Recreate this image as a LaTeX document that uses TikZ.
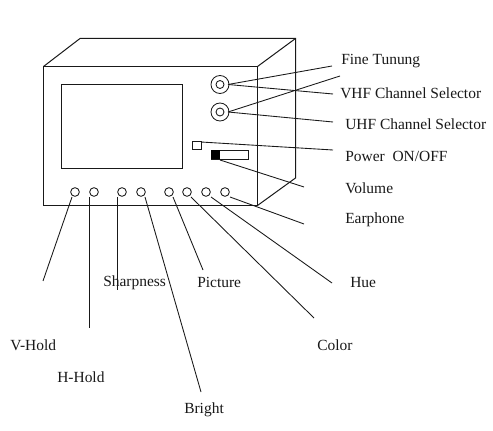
\documentclass[tikz,border=0pt]{standalone}
\usepackage{fontspec}
\setmainfont{Liberation Serif}
\tikzset{
  ln/.style={draw=black!90,line width=0.75pt},
  thin ln/.style={draw=black!90,line width=0.65pt},
  knobout/.style={circle,draw=black!90,line width=0.65pt,minimum size=13.5pt,inner sep=0pt},
  knobin/.style={circle,draw=black!90,line width=0.65pt,minimum size=6pt,inner sep=0pt},
  btn/.style={circle,draw=black!90,line width=0.65pt,minimum size=6.5pt,inner sep=0pt},
  lbl/.style={anchor=west,inner sep=0pt,font=\fontsize{11.6pt}{13pt}\selectfont,text=black!90},
}
\begin{document}
\begin{tikzpicture}[x=0.75pt,y=-0.75pt]
\useasboundingbox (0,0) rectangle (493,431);
% cabinet
\draw[ln] (43.5,66.5) rectangle (257.5,205.5);
\draw[ln] (43.5,66.5) -- (80,38.5) -- (295.5,38.5) -- (295.5,178) -- (257.5,205.5);
\draw[ln] (257.5,66.5) -- (295.5,38.5);
% screen
\draw[ln] (61.5,84.5) rectangle (182.5,168.5);
% knobs
\node[knobout] (fineo) at (220,84.5) {};
\node[knobin] (fine) at (220,84.5) {};
\node[knobout] (uhfo) at (220,112) {};
\node[knobin] (uhf) at (220,112) {};
% switch, slider
\node[draw=black!90,line width=0.75pt,minimum width=6.75pt,minimum height=6pt,inner sep=0pt] (pwr) at (197,145.5) {};
\node[draw=black!90,line width=0.75pt,fill=white,minimum width=27.5pt,minimum height=6.75pt,inner sep=0pt,anchor=west] (slide) at (211,155) {};
\fill[black] (211,150.5) rectangle (220,159.5);
% buttons
\node[btn] (b1) at (75,192) {};
\node[btn] (b2) at (94,192) {};
\node[btn] (b3) at (122,192) {};
\node[btn] (b4) at (141,192) {};
\node[btn] (b5) at (169,192) {};
\node[btn] (b6) at (187,192) {};
\node[btn] (b7) at (206,192) {};
\node[btn] (b8) at (225,192) {};
% free ends
\coordinate (e1) at (43,281);
\coordinate (s2) at (89.5,197);
\coordinate (e2) at (89.5,328);
\coordinate (s3) at (117.5,197);
\coordinate (e3) at (117.5,290);
\coordinate (e4) at (201,392);
\coordinate (e5) at (203,270);
\coordinate (e6) at (314,318);
\coordinate (e7) at (332,283);
\coordinate (e8) at (304,224);
\coordinate (ef) at (332,66);
\coordinate (ev) at (333,94);
\coordinate (e0) at (340,76);
\coordinate (eu) at (333,122);
\coordinate (ep) at (333,150);
\coordinate (evol) at (304,187);
\coordinate (pc) at (201,142);
\coordinate (vs) at (220,160);
\coordinate (k1) at (228,84.5);
\coordinate (k2) at (228,112);
% connectors
\draw[thin ln] (b1) ++(-3,5) -- (e1);
\draw[thin ln] (s2) -- (e2);
\draw[thin ln] (s3) -- (e3);
\draw[thin ln] (b4) ++(4,5) -- (e4);
\draw[thin ln] (b5) ++(4,5) -- (e5);
\draw[thin ln] (b6) ++(4,5) -- (e6);
\draw[thin ln] (b7) ++(5,5) -- (e7);
\draw[thin ln] (b8) ++(5,5) -- (e8);
\draw[thin ln] (k1) -- (ef);
\draw[thin ln] (k1) -- (ev);
\draw[thin ln] (k2) -- (e0);
\draw[thin ln] (k2) -- (eu);
\draw[thin ln] (pc) -- (ep);
\draw[thin ln] (vs) -- (evol);
% labels
\node[lbl] (l1) at (341,61) {Fine Tunung};
\node[lbl] (l2) at (340,93) {VHF Channel Selector};
\node[lbl] (l3) at (345,124.5) {UHF Channel Selector};
\node[lbl] (l4) at (345,156.5) {Power\ \ ON/OFF};
\node[lbl] (l5) at (345,188) {Volume};
\node[lbl] (l6) at (345,219.5) {Earphone};
\node[lbl] (l7) at (350,282.5) {Hue};
\node[lbl] (l8) at (317,345) {Color};
\node[lbl] (l9) at (197,282.5) {Picture};
\node[lbl] (l10) at (103,282.5) {Sharpness};
\node[lbl] (l11) at (10,345) {V-Hold};
\node[lbl] (l12) at (57,377) {H-Hold};
\node[lbl] (l13) at (184,409.5) {Bright};
\end{tikzpicture}
\end{document}
